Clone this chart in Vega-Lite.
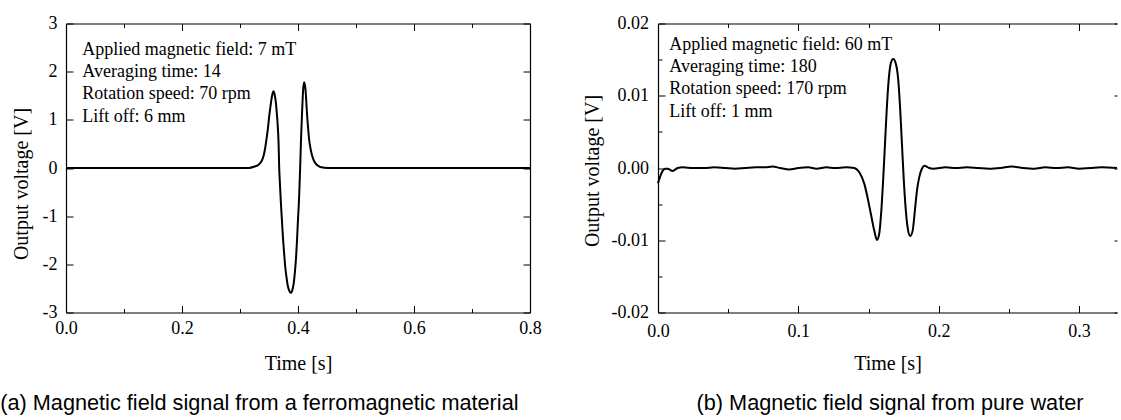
{
  "$schema": "https://vega.github.io/schema/vega-lite/v6.json",
  "background": "white",
  "padding": {"left": 0, "top": 14.5, "right": 0, "bottom": 0},
  "spacing": 40,
  "config": {
    "view": {"stroke": null},
    "axis": {
      "grid": false,
      "labelFont": "Liberation Serif",
      "labelFontSize": 18,
      "labelColor": "black",
      "titleFont": "Liberation Serif",
      "titleFontSize": 20,
      "titleFontWeight": "normal",
      "titleColor": "black",
      "tickColor": "black",
      "tickWidth": 1,
      "domainColor": "black",
      "domainWidth": 1.2,
      "labelFlush": false,
      "labelOverlap": false
    }
  },
  "datasets": {
    "left": [
      {"t": 0, "v": 0}, {"t": 0.05, "v": 0}, {"t": 0.1, "v": 0}, {"t": 0.15, "v": 0}, {"t": 0.2, "v": 0},
      {"t": 0.25, "v": 0}, {"t": 0.3, "v": 0}, {"t": 0.315, "v": 0}, {"t": 0.325, "v": 0.03}, {"t": 0.332, "v": 0.07},
      {"t": 0.337, "v": 0.14}, {"t": 0.3406, "v": 0.25}, {"t": 0.3435, "v": 0.42}, {"t": 0.3464, "v": 0.66},
      {"t": 0.3485, "v": 0.86}, {"t": 0.3504, "v": 1.08}, {"t": 0.3521, "v": 1.24}, {"t": 0.3538, "v": 1.39},
      {"t": 0.3558, "v": 1.53}, {"t": 0.3578, "v": 1.595}, {"t": 0.3598, "v": 1.52}, {"t": 0.3619, "v": 1.35},
      {"t": 0.3633, "v": 1.16}, {"t": 0.3647, "v": 0.94}, {"t": 0.3665, "v": 0.52}, {"t": 0.3676, "v": 0.0},
      {"t": 0.369, "v": -0.36}, {"t": 0.3705, "v": -0.72}, {"t": 0.3722, "v": -1.07}, {"t": 0.3739, "v": -1.415},
      {"t": 0.3759, "v": -1.74}, {"t": 0.3779, "v": -2.04}, {"t": 0.3802, "v": -2.27}, {"t": 0.3825, "v": -2.45},
      {"t": 0.385, "v": -2.55}, {"t": 0.3877, "v": -2.59}, {"t": 0.3903, "v": -2.53}, {"t": 0.3928, "v": -2.38},
      {"t": 0.3948, "v": -2.14}, {"t": 0.3968, "v": -1.83}, {"t": 0.3983, "v": -1.5}, {"t": 0.3997, "v": -1.14},
      {"t": 0.402, "v": -0.585}, {"t": 0.4037, "v": 0.0}, {"t": 0.4054, "v": 0.66}, {"t": 0.4072, "v": 1.21},
      {"t": 0.4089, "v": 1.63}, {"t": 0.4106, "v": 1.78}, {"t": 0.4129, "v": 1.63}, {"t": 0.4143, "v": 1.38},
      {"t": 0.4158, "v": 1.08}, {"t": 0.4175, "v": 0.82}, {"t": 0.4192, "v": 0.59}, {"t": 0.4215, "v": 0.41},
      {"t": 0.4238, "v": 0.28}, {"t": 0.4265, "v": 0.18}, {"t": 0.4295, "v": 0.107}, {"t": 0.434, "v": 0.05},
      {"t": 0.4381, "v": 0.02}, {"t": 0.4525, "v": 0}, {"t": 0.5, "v": 0}, {"t": 0.55, "v": 0}, {"t": 0.6, "v": 0},
      {"t": 0.65, "v": 0}, {"t": 0.7, "v": 0}, {"t": 0.75, "v": 0}, {"t": 0.8, "v": 0}
    ],
    "right": [
      {"t": 0, "v": -0.0021}, {"t": 0.0015, "v": -0.0012}, {"t": 0.0033, "v": -0.0004}, {"t": 0.005, "v": -0.0001},
      {"t": 0.0069, "v": -0.0001}, {"t": 0.0104, "v": -0.0004}, {"t": 0.014, "v": 0.0}, {"t": 0.0176, "v": 0.0001},
      {"t": 0.025, "v": 0.0}, {"t": 0.033, "v": 0.0}, {"t": 0.04, "v": 0.0001}, {"t": 0.048, "v": 0.0},
      {"t": 0.055, "v": -0.0001}, {"t": 0.062, "v": 0.0}, {"t": 0.07, "v": 0.0001}, {"t": 0.076, "v": 0.0001},
      {"t": 0.0817, "v": 0.0002}, {"t": 0.087, "v": 0.0}, {"t": 0.0935, "v": -0.0002}, {"t": 0.1, "v": 0.0},
      {"t": 0.107, "v": 0.0001}, {"t": 0.113, "v": -0.0001}, {"t": 0.12, "v": 0.0001}, {"t": 0.126, "v": 0.0},
      {"t": 0.1339, "v": 0.0001}, {"t": 0.1398, "v": 0}, {"t": 0.1434, "v": -0.0006}, {"t": 0.147, "v": -0.0022},
      {"t": 0.1493, "v": -0.0041}, {"t": 0.1517, "v": -0.0064}, {"t": 0.1541, "v": -0.0087}, {"t": 0.156, "v": -0.00996},
      {"t": 0.1576, "v": -0.0091}, {"t": 0.1591, "v": -0.0059}, {"t": 0.1605, "v": -0.0013}, {"t": 0.1617, "v": 0.0033},
      {"t": 0.1629, "v": 0.0079}, {"t": 0.1643, "v": 0.0121}, {"t": 0.166, "v": 0.0146}, {"t": 0.1676, "v": 0.0151},
      {"t": 0.1695, "v": 0.0144}, {"t": 0.1712, "v": 0.0121}, {"t": 0.1726, "v": 0.0079}, {"t": 0.1738, "v": 0.0033},
      {"t": 0.175, "v": -0.0013}, {"t": 0.1762, "v": -0.005}, {"t": 0.1778, "v": -0.0082}, {"t": 0.1797, "v": -0.0094},
      {"t": 0.1814, "v": -0.0087}, {"t": 0.183, "v": -0.0059}, {"t": 0.1845, "v": -0.0031}, {"t": 0.1861, "v": -0.0013},
      {"t": 0.188, "v": -0.0001}, {"t": 0.19, "v": 0.0003}, {"t": 0.1914, "v": 0.0002}, {"t": 0.1932, "v": 0.0},
      {"t": 0.1961, "v": -0.0001}, {"t": 0.2051, "v": 0.0001}, {"t": 0.212, "v": 0.0}, {"t": 0.22, "v": 0.0001},
      {"t": 0.228, "v": 0.0}, {"t": 0.236, "v": -0.0001}, {"t": 0.244, "v": 0.0}, {"t": 0.252, "v": 0.0002},
      {"t": 0.26, "v": 0.0}, {"t": 0.268, "v": -0.0001}, {"t": 0.276, "v": 0.0001}, {"t": 0.284, "v": 0.0},
      {"t": 0.292, "v": 0.0001}, {"t": 0.3, "v": -0.0001}, {"t": 0.308, "v": 0.0}, {"t": 0.316, "v": 0.0001},
      {"t": 0.327, "v": 0.0}
    ]
  },
  "hconcat": [
    {
      "width": 464,
      "height": 289,
      "title": {"text": "(a) Magnetic field signal from a ferromagnetic material", "orient": "bottom", "anchor": "middle", "font": "Liberation Sans", "fontSize": 21.7, "fontWeight": "normal", "color": "black", "offset": 20, "dx": -38.6},
      "resolve": {"axis": {"x": "independent", "y": "independent"}},
      "layer": [
        {
          "data": {"name": "left"},
          "mark": {"type": "line", "color": "black", "strokeWidth": 2, "interpolate": "monotone"},
          "encoding": {
            "x": {"field": "t", "type": "quantitative", "scale": {"domain": [0, 0.8], "nice": false, "zero": false},
              "axis": {"orient": "bottom", "values": [0, 0.2, 0.4, 0.6, 0.8], "format": ".1f", "labelFont": "Liberation Serif", "tickSize": -7, "labelPadding": 13.5, "title": "Time [s]", "titlePadding": 16}},
            "y": {"field": "v", "type": "quantitative", "scale": {"domain": [-3, 3], "nice": false, "zero": false},
              "axis": {"orient": "left", "values": [-3, -2, -1, 0, 1, 2, 3], "format": "d", "labelFont": "Liberation Serif", "labelExpr": "replace(datum.label, '\u2212', '-')", "tickSize": -7, "labelPadding": 16, "title": "Output voltage [V]", "titlePadding": 11, "titleY": 160}}
          }
        },
        {
          "data": {"values": [{"t": 0.028, "v": 2.46, "label": "Applied magnetic field: 7 mT"}]},
          "mark": {"type": "text", "align": "left", "baseline": "middle", "font": "Liberation Serif", "fontSize": 18, "color": "black"},
          "encoding": {
            "x": {"field": "t", "type": "quantitative", "scale": {"domain": [0, 0.8], "nice": false, "zero": false},
              "axis": {"orient": "top", "values": [0, 0.2, 0.4, 0.6, 0.8], "labels": false, "tickSize": -7, "title": null}},
            "y": {"field": "v", "type": "quantitative", "scale": {"domain": [-3, 3], "nice": false, "zero": false},
              "axis": {"orient": "right", "values": [-3, -2, -1, 0, 1, 2, 3], "labels": false, "tickSize": -7, "title": null}},
            "text": {"field": "label"}
          }
        },
        {
          "data": {"values": [{"t": 0.028, "v": 1.99, "label": "Averaging time: 14"}]},
          "mark": {"type": "text", "align": "left", "baseline": "middle", "font": "Liberation Serif", "fontSize": 18, "color": "black"},
          "encoding": {
            "x": {"field": "t", "type": "quantitative", "scale": {"domain": [0, 0.8], "nice": false, "zero": false},
              "axis": {"orient": "bottom", "values": [0.1, 0.3, 0.5, 0.7], "labels": false, "domain": false, "tickSize": -4, "title": null}},
            "y": {"field": "v", "type": "quantitative", "scale": {"domain": [-3, 3], "nice": false, "zero": false}, "axis": null},
            "text": {"field": "label"}
          }
        },
        {
          "data": {"values": [{"t": 0.028, "v": 1.526, "label": "Rotation speed: 70 rpm"}]},
          "mark": {"type": "text", "align": "left", "baseline": "middle", "font": "Liberation Serif", "fontSize": 18, "color": "black"},
          "encoding": {
            "x": {"field": "t", "type": "quantitative", "scale": {"domain": [0, 0.8], "nice": false, "zero": false},
              "axis": {"orient": "top", "values": [0.1, 0.3, 0.5, 0.7], "labels": false, "domain": false, "tickSize": -4, "title": null}},
            "y": {"field": "v", "type": "quantitative", "scale": {"domain": [-3, 3], "nice": false, "zero": false}, "axis": null},
            "text": {"field": "label"}
          }
        },
        {
          "data": {"values": [{"t": 0.028, "v": 1.063, "label": "Lift off: 6 mm"}]},
          "mark": {"type": "text", "align": "left", "baseline": "middle", "font": "Liberation Serif", "fontSize": 18, "color": "black"},
          "encoding": {
            "x": {"field": "t", "type": "quantitative", "scale": {"domain": [0, 0.8], "nice": false, "zero": false}, "axis": null},
            "y": {"field": "v", "type": "quantitative", "scale": {"domain": [-3, 3], "nice": false, "zero": false}, "axis": null},
            "text": {"field": "label"}
          }
        }
      ]
    },
    {
      "width": 459,
      "height": 289,
      "title": {"text": "(b) Magnetic field signal from pure water", "orient": "bottom", "anchor": "middle", "font": "Liberation Sans", "fontSize": 21.7, "fontWeight": "normal", "color": "black", "offset": 20, "dx": 2.5},
      "resolve": {"axis": {"x": "independent", "y": "independent"}},
      "layer": [
        {
          "data": {"name": "right"},
          "mark": {"type": "line", "color": "black", "strokeWidth": 2, "interpolate": "monotone"},
          "encoding": {
            "x": {"field": "t", "type": "quantitative", "scale": {"domain": [0, 0.327], "nice": false, "zero": false},
              "axis": {"orient": "bottom", "values": [0, 0.1, 0.2, 0.3], "format": ".1f", "labelFont": "Liberation Serif", "tickSize": -7, "labelPadding": 16.5, "title": "Time [s]", "titlePadding": 13}},
            "y": {"field": "v", "type": "quantitative", "scale": {"domain": [-0.02, 0.02], "nice": false, "zero": false},
              "axis": {"orient": "left", "values": [-0.02, -0.01, 0, 0.01, 0.02], "format": ".2f", "labelFont": "Liberation Serif", "labelExpr": "replace(datum.label, '\u2212', '-')", "tickSize": -7, "labelPadding": 16.5, "title": "Output voltage [V]", "titlePadding": 9, "titleY": 147}}
          }
        },
        {
          "data": {"values": [{"t": 0.008, "v": 0.0170, "label": "Applied magnetic field: 60 mT"}]},
          "mark": {"type": "text", "align": "left", "baseline": "middle", "font": "Liberation Serif", "fontSize": 18, "color": "black"},
          "encoding": {
            "x": {"field": "t", "type": "quantitative", "scale": {"domain": [0, 0.327], "nice": false, "zero": false},
              "axis": {"orient": "top", "values": [0, 0.1, 0.2, 0.3], "labels": false, "tickSize": -7, "title": null}},
            "y": {"field": "v", "type": "quantitative", "scale": {"domain": [-0.02, 0.02], "nice": false, "zero": false},
              "axis": {"orient": "right", "values": [-0.02, -0.01, 0, 0.01, 0.02], "labels": false, "domain": false, "tickSize": -3, "title": null}},
            "text": {"field": "label"}
          }
        },
        {
          "data": {"values": [{"t": 0.008, "v": 0.01395, "label": "Averaging time: 180"}]},
          "mark": {"type": "text", "align": "left", "baseline": "middle", "font": "Liberation Serif", "fontSize": 18, "color": "black"},
          "encoding": {
            "x": {"field": "t", "type": "quantitative", "scale": {"domain": [0, 0.327], "nice": false, "zero": false},
              "axis": {"orient": "bottom", "values": [0.05, 0.15, 0.25], "labels": false, "domain": false, "tickSize": -4, "title": null}},
            "y": {"field": "v", "type": "quantitative", "scale": {"domain": [-0.02, 0.02], "nice": false, "zero": false},
              "axis": {"orient": "left", "values": [-0.015, -0.005, 0.005, 0.015], "labels": false, "domain": false, "tickSize": -4, "title": null}},
            "text": {"field": "label"}
          }
        },
        {
          "data": {"values": [{"t": 0.008, "v": 0.01087, "label": "Rotation speed: 170 rpm"}]},
          "mark": {"type": "text", "align": "left", "baseline": "middle", "font": "Liberation Serif", "fontSize": 18, "color": "black"},
          "encoding": {
            "x": {"field": "t", "type": "quantitative", "scale": {"domain": [0, 0.327], "nice": false, "zero": false},
              "axis": {"orient": "top", "values": [0.05, 0.15, 0.25], "labels": false, "domain": false, "tickSize": -4, "title": null}},
            "y": {"field": "v", "type": "quantitative", "scale": {"domain": [-0.02, 0.02], "nice": false, "zero": false}, "axis": null},
            "text": {"field": "label"}
          }
        },
        {
          "data": {"values": [{"t": 0.008, "v": 0.00778, "label": "Lift off: 1 mm"}]},
          "mark": {"type": "text", "align": "left", "baseline": "middle", "font": "Liberation Serif", "fontSize": 18, "color": "black"},
          "encoding": {
            "x": {"field": "t", "type": "quantitative", "scale": {"domain": [0, 0.327], "nice": false, "zero": false}, "axis": null},
            "y": {"field": "v", "type": "quantitative", "scale": {"domain": [-0.02, 0.02], "nice": false, "zero": false}, "axis": null},
            "text": {"field": "label"}
          }
        }
      ]
    }
  ]
}
